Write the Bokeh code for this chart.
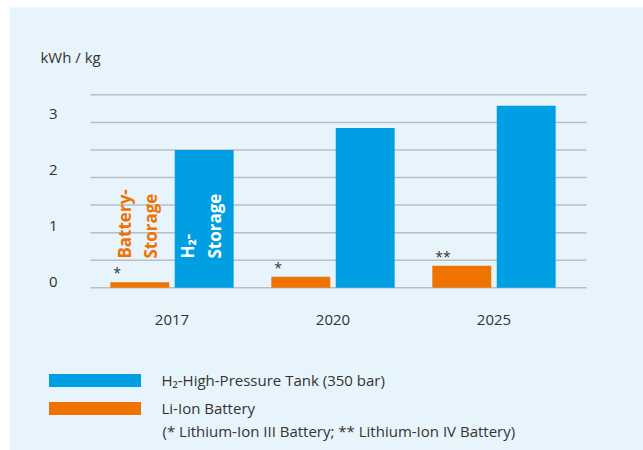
import numpy as np
from bokeh.plotting import figure
from bokeh.models import Range1d, Legend, LegendItem, ColumnDataSource
from bokeh.core.properties import value
from bokeh.embed import file_html
from bokeh.resources import INLINE

# ---- data ----
years = ["2017", "2020", "2025"]
h2_tank = [2.5, 2.9, 3.3]          # H2 high-pressure tank (350 bar), kWh/kg
li_ion = [0.1, 0.2, 0.4]           # Li-Ion battery, kWh/kg
footnote_marks = ["*", "*", "**"]
y_tick_values = [0, 1, 2, 3]
y_tick_labels = ["0", "1", "2", "3"]
grid_values = [0, 0.5, 1, 1.5, 2, 2.5, 3, 3.5]

BG = "#E8F4FC"
BLUE = "#009FE3"
ORANGE = "#EF7300"
TXT = "#333333"
GRID = "#B9BEC3"
FONT = "Open Sans"

BAR_W = 0.366
DODGE = 0.2
PLOT_L, PLOT_R = -0.506, 2.575      # extent of the plotting area (data units)

xs = np.arange(len(years))

# the frame fills the light-blue panel; 161 px per category, 55.14 px per kWh/kg
p = figure(width=643, height=450, output_backend="svg", toolbar_location=None,
           x_range=Range1d(-1.0093, 2.9286), y_range=Range1d(-2.9507, 5.0834),
           min_border_left=9, min_border_top=7, min_border_right=0, min_border_bottom=0)
p.background_fill_color = BG
p.border_fill_color = "white"
p.outline_line_color = None
p.xaxis.visible = False
p.yaxis.visible = False
p.grid.visible = False

# grid lines
p.segment(x0=[PLOT_L] * len(grid_values), x1=[PLOT_R] * len(grid_values),
          y0=grid_values, y1=grid_values, line_color=GRID, line_width=1.5)

# y tick labels (drawn slightly above their grid line, like the original)
p.text(x=[PLOT_L - 0.205] * len(y_tick_values),
       y=[v + 0.1 + 0.02 * v for v in y_tick_values], text=y_tick_labels,
       text_align="right", text_baseline="middle",
       text_font=value(FONT), text_font_size="15px", text_color=TXT)

# unit label
p.text(x=[PLOT_L - 0.311], y=[4.177], text=["kWh / kg"], text_align="left",
       text_baseline="middle", text_font=value(FONT), text_font_size="15px", text_color=TXT)

# category labels
p.text(x=xs, y=[-0.593] * len(xs), text=years, text_align="center", text_baseline="middle",
       text_font=value(FONT), text_font_size="15px", text_color=TXT)

# bars
src = ColumnDataSource(dict(
    x_li=xs - DODGE, x_h2=xs + DODGE, li=li_ion, h2=h2_tank,
    mark=footnote_marks, mark_x=xs - DODGE - BAR_W / 2))
r_h2 = p.vbar(x="x_h2", top="h2", bottom=0, width=BAR_W, source=src, color=BLUE, line_color=None)
r_li = p.vbar(x="x_li", top="li", bottom=0, width=BAR_W, source=src, color=ORANGE, line_color=None)

# footnote stars above battery bars
p.text(x="mark_x", y="li", text="mark", source=src, text_align="left",
       text_baseline="bottom", x_offset=3, y_offset=0,
       text_font=value(FONT), text_font_size="14px", text_color=TXT)

# rotated labels inside 2017 group
lbl = dict(angle=np.pi / 2, text_align="left", text_baseline="middle",
           text_font=value(FONT), text_font_size="17px", text_font_style="bold")
p.text(x=[xs[0] - 0.295, xs[0] - 0.133], y=[0.53, 0.53], text=["Battery-", "Storage"],
       text_color=ORANGE, **lbl)
p.text(x=[xs[0] + 0.0965, xs[0] + 0.264], y=[0.53, 0.53], text=["H₂-", "Storage"],
       text_color="white", **lbl)

# legend (area swatches are drawn at 80% of the glyph box)
legend = Legend(items=[LegendItem(label="H₂-High-Pressure Tank (350 bar)", renderers=[r_h2]),
                       LegendItem(label="Li-Ion Battery", renderers=[r_li])],
                location=(27.5, 32), glyph_width=115, glyph_height=16,
                label_standoff=10, label_height=20, spacing=8, padding=0, margin=0,
                border_line_color=None, background_fill_alpha=0,
                label_text_font=FONT, label_text_font_size="15px", label_text_color=TXT)
p.add_layout(legend, "center")

p.text(x=[-0.059], y=[-2.606], text=["(* Lithium-Ion III Battery; ** Lithium-Ion IV Battery)"],
       text_align="left", text_baseline="middle",
       text_font=value(FONT), text_font_size="15px", text_color=TXT)

open("out.html", "w").write(file_html(p, INLINE))
